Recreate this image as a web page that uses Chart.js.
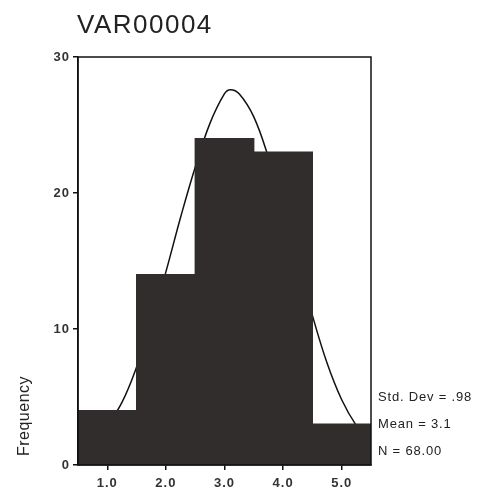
<!DOCTYPE html>
<html>
<head>
<meta charset="utf-8">
<title>VAR00004</title>
<script src="https://cdn.jsdelivr.net/npm/chart.js@4/dist/chart.umd.min.js"></script>
<style>
  html, body { margin: 0; padding: 0; background: #fff; }
  canvas { display: block; }
</style>
</head>
<body>
<canvas id="histChart" width="489" height="499"></canvas>
<script>
// Histogram bins (centres) and counts
const binCenters = [1, 2, 3, 4, 5];
const frequencies = [4, 14, 24, 23, 3];

// Normal curve overlay
const curveX = [0.5, 0.75, 1.0, 1.25, 1.5, 1.75, 2.0, 2.25, 2.5, 2.75, 3.0, 3.1, 3.25, 3.5, 3.75, 4.0, 4.25, 4.5, 4.75, 5.0, 5.25, 5.5];
const curveY = [0.8, 1.6, 2.9, 4.6, 7.2, 10.5, 14.2, 18.2, 21.9, 25.1, 27.3, 27.6, 27.3, 25.6, 22.6, 18.9, 14.9, 11.0, 7.5, 4.8, 2.9, 1.6];

// Axis ticks
const xTicks = [1, 2, 3, 4, 5];
const xTickLabels = ['1.0', '2.0', '3.0', '4.0', '5.0'];
const yTicks = [0, 10, 20, 30];

// Summary stats shown beside the plot
const statLines = ['Std. Dev = .98', 'Mean = 3.1', 'N = 68.00'];

const FONT = '"Liberation Sans", Arial, Helvetica, sans-serif';
const BAR_COLOR = '#322d2d';

// wider tracking for the tick numbers, like the old printout
const spacing = {
    id: 'spacing',
    beforeDraw(chart) { chart.ctx.letterSpacing = '1px'; }
};

// Title, axis name, stats text and the box around the plot area
const decorations = {
    id: 'decorations',
    afterDraw(chart) {
        const { ctx, chartArea } = chart;
        ctx.save();

        ctx.strokeStyle = '#111';
        ctx.lineWidth = 1.5;
        ctx.strokeRect(chartArea.left, chartArea.top, chartArea.right - chartArea.left, chartArea.bottom - chartArea.top);

        ctx.fillStyle = '#222';
        ctx.textBaseline = 'alphabetic';
        ctx.textAlign = 'left';
        ctx.font = `26px ${FONT}`;
        ctx.letterSpacing = '1.5px';
        ctx.fillText('VAR00004', 77, 33);

        ctx.font = `13px ${FONT}`;
        ctx.letterSpacing = '0.8px';
        ctx.textBaseline = 'middle';
        statLines.forEach((line, i) => ctx.fillText(line, 378, 397 + i * 27));

        ctx.translate(25, 416);
        ctx.rotate(-Math.PI / 2);
        ctx.textAlign = 'center';
        ctx.font = `16px ${FONT}`;
        ctx.letterSpacing = '0.5px';
        ctx.fillText('Frequency', 0, 0);

        ctx.restore();
    }
};

const tickFont = { family: FONT, size: 13, weight: 'bold' };

new Chart(document.getElementById('histChart'), {
    type: 'bar',
    data: {
        datasets: [
            {
                type: 'bar',
                data: binCenters.map((x, i) => ({ x, y: frequencies[i] })),
                backgroundColor: BAR_COLOR,
                borderWidth: 0,
                inflateAmount: 0.6,
                barPercentage: 1.0,
                categoryPercentage: 1.0,
                order: 1
            },
            {
                type: 'line',
                data: curveX.map((x, i) => ({ x, y: curveY[i] })),
                borderColor: '#111',
                borderWidth: 1.5,
                pointRadius: 0,
                tension: 0.4,
                fill: false,
                order: 2
            }
        ]
    },
    options: {
        responsive: false,
        animation: false,
        layout: { padding: { left: 0, top: 57, right: 118, bottom: 0 } },
        plugins: {
            legend: { display: false },
            tooltip: { enabled: false },
            title: { display: false }
        },
        scales: {
            x: {
                type: 'linear',
                min: 0.5,
                max: 5.5,
                offset: false,
                afterBuildTicks: scale => { scale.ticks = xTicks.map(v => ({ value: v })); },
                afterFit: scale => { scale.height = 34; },
                ticks: {
                    color: '#333',
                    font: tickFont,
                    padding: 6,
                    maxRotation: 0,
                    callback: (value, index) => xTickLabels[index]
                },
                grid: { display: true, offset: false, drawOnChartArea: false, drawTicks: true, tickLength: 5, color: '#111', lineWidth: 1.5 },
                border: { display: true, color: '#111', width: 1.5 }
            },
            y: {
                min: 0,
                max: 30,
                afterBuildTicks: scale => { scale.ticks = yTicks.map(v => ({ value: v })); },
                afterFit: scale => { scale.width = 78; },
                ticks: {
                    color: '#333',
                    font: tickFont,
                    padding: 3
                },
                grid: { display: true, drawOnChartArea: false, drawTicks: true, tickLength: 5, color: '#111', lineWidth: 1.5 },
                border: { display: true, color: '#111', width: 1.5 }
            }
        }
    },
    plugins: [spacing, decorations]
});
</script>
</body>
</html>
